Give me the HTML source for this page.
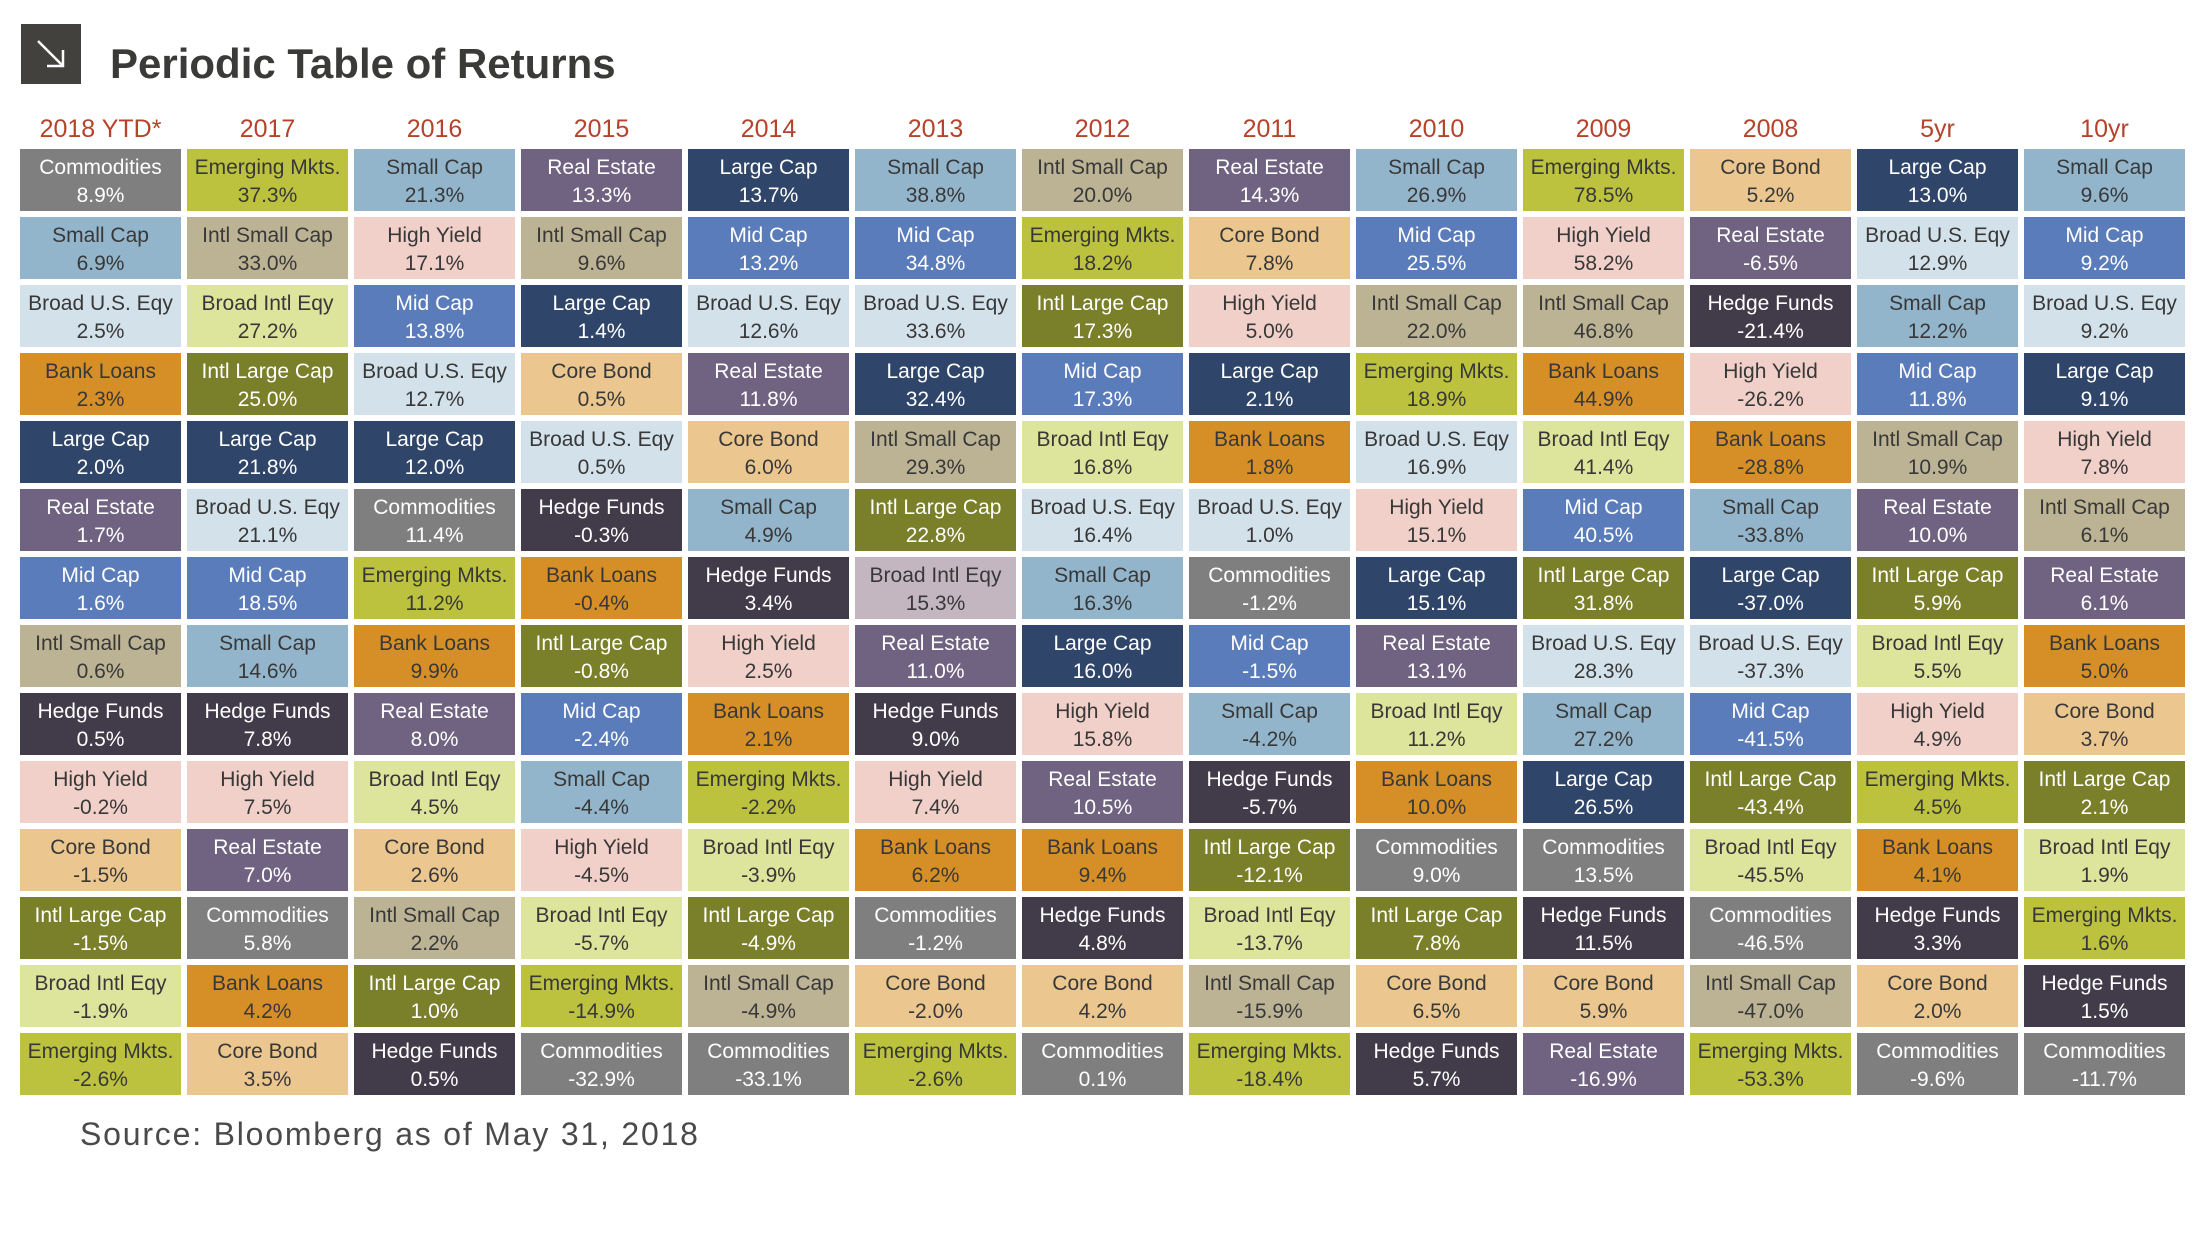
<!DOCTYPE html>
<html><head><meta charset="utf-8"><style>
body{margin:0;width:2208px;height:1242px;background:#fff;position:relative;overflow:hidden;font-family:"Liberation Sans",sans-serif}
.icon{position:absolute;left:21px;top:24px;width:60px;height:60px;background:#42413d}
.title{position:absolute;left:110px;top:40px;font-size:42px;font-weight:bold;color:#3a3a38;letter-spacing:0px}
.yr{position:absolute;top:115px;width:161px;text-align:center;font-size:25px;color:#b5432b}
.g{position:absolute;left:20px;top:149px;display:grid;grid-template-columns:repeat(13,161px);grid-template-rows:repeat(14,62px);column-gap:6px;row-gap:6px;grid-auto-flow:column}
.g div{text-align:center;font-size:21px;line-height:28px;padding-top:5px;box-sizing:border-box;color:#383838;white-space:nowrap;overflow:hidden}
.co{background:#7f7f7f;color:#fff!important}
.sc{background:#93b5cb}
.bu{background:#d3e1ea}
.bl{background:#d68f27}
.lc{background:#2f4569;color:#fff!important}
.re{background:#6f6381;color:#fff!important}
.mc{background:#5b7cba;color:#fff!important}
.is{background:#bcb394}
.hf{background:#413b4a;color:#fff!important}
.hy{background:#f0d0c8}
.cb{background:#ebc78f}
.il{background:#7a7f2a;color:#fff!important}
.bi{background:#dde49c}
.em{background:#bdc23e}
.bx{background:#c4b6c0}
.src{position:absolute;left:80px;top:1116px;font-size:32px;color:#4a4a4a;letter-spacing:1.8px}
</style></head><body>
<div class="icon"><svg width="60" height="60"><line x1="17" y1="17" x2="42" y2="42" stroke="#fff" stroke-width="2.5"/><polyline points="26,42 42,42 42,26" fill="none" stroke="#fff" stroke-width="2.5"/></svg></div>
<div class="title">Periodic Table of Returns</div>
<div class="yr" style="left:20px">2018 YTD*</div>
<div class="yr" style="left:187px">2017</div>
<div class="yr" style="left:354px">2016</div>
<div class="yr" style="left:521px">2015</div>
<div class="yr" style="left:688px">2014</div>
<div class="yr" style="left:855px">2013</div>
<div class="yr" style="left:1022px">2012</div>
<div class="yr" style="left:1189px">2011</div>
<div class="yr" style="left:1356px">2010</div>
<div class="yr" style="left:1523px">2009</div>
<div class="yr" style="left:1690px">2008</div>
<div class="yr" style="left:1857px">5yr</div>
<div class="yr" style="left:2024px">10yr</div>
<div class="g">
<div class="co">Commodities<br>8.9%</div><div class="sc">Small Cap<br>6.9%</div><div class="bu">Broad U.S. Eqy<br>2.5%</div><div class="bl">Bank Loans<br>2.3%</div><div class="lc">Large Cap<br>2.0%</div><div class="re">Real Estate<br>1.7%</div><div class="mc">Mid Cap<br>1.6%</div><div class="is">Intl Small Cap<br>0.6%</div><div class="hf">Hedge Funds<br>0.5%</div><div class="hy">High Yield<br>-0.2%</div><div class="cb">Core Bond<br>-1.5%</div><div class="il">Intl Large Cap<br>-1.5%</div><div class="bi">Broad Intl Eqy<br>-1.9%</div><div class="em">Emerging Mkts.<br>-2.6%</div>
<div class="em">Emerging Mkts.<br>37.3%</div><div class="is">Intl Small Cap<br>33.0%</div><div class="bi">Broad Intl Eqy<br>27.2%</div><div class="il">Intl Large Cap<br>25.0%</div><div class="lc">Large Cap<br>21.8%</div><div class="bu">Broad U.S. Eqy<br>21.1%</div><div class="mc">Mid Cap<br>18.5%</div><div class="sc">Small Cap<br>14.6%</div><div class="hf">Hedge Funds<br>7.8%</div><div class="hy">High Yield<br>7.5%</div><div class="re">Real Estate<br>7.0%</div><div class="co">Commodities<br>5.8%</div><div class="bl">Bank Loans<br>4.2%</div><div class="cb">Core Bond<br>3.5%</div>
<div class="sc">Small Cap<br>21.3%</div><div class="hy">High Yield<br>17.1%</div><div class="mc">Mid Cap<br>13.8%</div><div class="bu">Broad U.S. Eqy<br>12.7%</div><div class="lc">Large Cap<br>12.0%</div><div class="co">Commodities<br>11.4%</div><div class="em">Emerging Mkts.<br>11.2%</div><div class="bl">Bank Loans<br>9.9%</div><div class="re">Real Estate<br>8.0%</div><div class="bi">Broad Intl Eqy<br>4.5%</div><div class="cb">Core Bond<br>2.6%</div><div class="is">Intl Small Cap<br>2.2%</div><div class="il">Intl Large Cap<br>1.0%</div><div class="hf">Hedge Funds<br>0.5%</div>
<div class="re">Real Estate<br>13.3%</div><div class="is">Intl Small Cap<br>9.6%</div><div class="lc">Large Cap<br>1.4%</div><div class="cb">Core Bond<br>0.5%</div><div class="bu">Broad U.S. Eqy<br>0.5%</div><div class="hf">Hedge Funds<br>-0.3%</div><div class="bl">Bank Loans<br>-0.4%</div><div class="il">Intl Large Cap<br>-0.8%</div><div class="mc">Mid Cap<br>-2.4%</div><div class="sc">Small Cap<br>-4.4%</div><div class="hy">High Yield<br>-4.5%</div><div class="bi">Broad Intl Eqy<br>-5.7%</div><div class="em">Emerging Mkts.<br>-14.9%</div><div class="co">Commodities<br>-32.9%</div>
<div class="lc">Large Cap<br>13.7%</div><div class="mc">Mid Cap<br>13.2%</div><div class="bu">Broad U.S. Eqy<br>12.6%</div><div class="re">Real Estate<br>11.8%</div><div class="cb">Core Bond<br>6.0%</div><div class="sc">Small Cap<br>4.9%</div><div class="hf">Hedge Funds<br>3.4%</div><div class="hy">High Yield<br>2.5%</div><div class="bl">Bank Loans<br>2.1%</div><div class="em">Emerging Mkts.<br>-2.2%</div><div class="bi">Broad Intl Eqy<br>-3.9%</div><div class="il">Intl Large Cap<br>-4.9%</div><div class="is">Intl Small Cap<br>-4.9%</div><div class="co">Commodities<br>-33.1%</div>
<div class="sc">Small Cap<br>38.8%</div><div class="mc">Mid Cap<br>34.8%</div><div class="bu">Broad U.S. Eqy<br>33.6%</div><div class="lc">Large Cap<br>32.4%</div><div class="is">Intl Small Cap<br>29.3%</div><div class="il">Intl Large Cap<br>22.8%</div><div class="bx">Broad Intl Eqy<br>15.3%</div><div class="re">Real Estate<br>11.0%</div><div class="hf">Hedge Funds<br>9.0%</div><div class="hy">High Yield<br>7.4%</div><div class="bl">Bank Loans<br>6.2%</div><div class="co">Commodities<br>-1.2%</div><div class="cb">Core Bond<br>-2.0%</div><div class="em">Emerging Mkts.<br>-2.6%</div>
<div class="is">Intl Small Cap<br>20.0%</div><div class="em">Emerging Mkts.<br>18.2%</div><div class="il">Intl Large Cap<br>17.3%</div><div class="mc">Mid Cap<br>17.3%</div><div class="bi">Broad Intl Eqy<br>16.8%</div><div class="bu">Broad U.S. Eqy<br>16.4%</div><div class="sc">Small Cap<br>16.3%</div><div class="lc">Large Cap<br>16.0%</div><div class="hy">High Yield<br>15.8%</div><div class="re">Real Estate<br>10.5%</div><div class="bl">Bank Loans<br>9.4%</div><div class="hf">Hedge Funds<br>4.8%</div><div class="cb">Core Bond<br>4.2%</div><div class="co">Commodities<br>0.1%</div>
<div class="re">Real Estate<br>14.3%</div><div class="cb">Core Bond<br>7.8%</div><div class="hy">High Yield<br>5.0%</div><div class="lc">Large Cap<br>2.1%</div><div class="bl">Bank Loans<br>1.8%</div><div class="bu">Broad U.S. Eqy<br>1.0%</div><div class="co">Commodities<br>-1.2%</div><div class="mc">Mid Cap<br>-1.5%</div><div class="sc">Small Cap<br>-4.2%</div><div class="hf">Hedge Funds<br>-5.7%</div><div class="il">Intl Large Cap<br>-12.1%</div><div class="bi">Broad Intl Eqy<br>-13.7%</div><div class="is">Intl Small Cap<br>-15.9%</div><div class="em">Emerging Mkts.<br>-18.4%</div>
<div class="sc">Small Cap<br>26.9%</div><div class="mc">Mid Cap<br>25.5%</div><div class="is">Intl Small Cap<br>22.0%</div><div class="em">Emerging Mkts.<br>18.9%</div><div class="bu">Broad U.S. Eqy<br>16.9%</div><div class="hy">High Yield<br>15.1%</div><div class="lc">Large Cap<br>15.1%</div><div class="re">Real Estate<br>13.1%</div><div class="bi">Broad Intl Eqy<br>11.2%</div><div class="bl">Bank Loans<br>10.0%</div><div class="co">Commodities<br>9.0%</div><div class="il">Intl Large Cap<br>7.8%</div><div class="cb">Core Bond<br>6.5%</div><div class="hf">Hedge Funds<br>5.7%</div>
<div class="em">Emerging Mkts.<br>78.5%</div><div class="hy">High Yield<br>58.2%</div><div class="is">Intl Small Cap<br>46.8%</div><div class="bl">Bank Loans<br>44.9%</div><div class="bi">Broad Intl Eqy<br>41.4%</div><div class="mc">Mid Cap<br>40.5%</div><div class="il">Intl Large Cap<br>31.8%</div><div class="bu">Broad U.S. Eqy<br>28.3%</div><div class="sc">Small Cap<br>27.2%</div><div class="lc">Large Cap<br>26.5%</div><div class="co">Commodities<br>13.5%</div><div class="hf">Hedge Funds<br>11.5%</div><div class="cb">Core Bond<br>5.9%</div><div class="re">Real Estate<br>-16.9%</div>
<div class="cb">Core Bond<br>5.2%</div><div class="re">Real Estate<br>-6.5%</div><div class="hf">Hedge Funds<br>-21.4%</div><div class="hy">High Yield<br>-26.2%</div><div class="bl">Bank Loans<br>-28.8%</div><div class="sc">Small Cap<br>-33.8%</div><div class="lc">Large Cap<br>-37.0%</div><div class="bu">Broad U.S. Eqy<br>-37.3%</div><div class="mc">Mid Cap<br>-41.5%</div><div class="il">Intl Large Cap<br>-43.4%</div><div class="bi">Broad Intl Eqy<br>-45.5%</div><div class="co">Commodities<br>-46.5%</div><div class="is">Intl Small Cap<br>-47.0%</div><div class="em">Emerging Mkts.<br>-53.3%</div>
<div class="lc">Large Cap<br>13.0%</div><div class="bu">Broad U.S. Eqy<br>12.9%</div><div class="sc">Small Cap<br>12.2%</div><div class="mc">Mid Cap<br>11.8%</div><div class="is">Intl Small Cap<br>10.9%</div><div class="re">Real Estate<br>10.0%</div><div class="il">Intl Large Cap<br>5.9%</div><div class="bi">Broad Intl Eqy<br>5.5%</div><div class="hy">High Yield<br>4.9%</div><div class="em">Emerging Mkts.<br>4.5%</div><div class="bl">Bank Loans<br>4.1%</div><div class="hf">Hedge Funds<br>3.3%</div><div class="cb">Core Bond<br>2.0%</div><div class="co">Commodities<br>-9.6%</div>
<div class="sc">Small Cap<br>9.6%</div><div class="mc">Mid Cap<br>9.2%</div><div class="bu">Broad U.S. Eqy<br>9.2%</div><div class="lc">Large Cap<br>9.1%</div><div class="hy">High Yield<br>7.8%</div><div class="is">Intl Small Cap<br>6.1%</div><div class="re">Real Estate<br>6.1%</div><div class="bl">Bank Loans<br>5.0%</div><div class="cb">Core Bond<br>3.7%</div><div class="il">Intl Large Cap<br>2.1%</div><div class="bi">Broad Intl Eqy<br>1.9%</div><div class="em">Emerging Mkts.<br>1.6%</div><div class="hf">Hedge Funds<br>1.5%</div><div class="co">Commodities<br>-11.7%</div>
</div>
<div class="src">Source: Bloomberg as of May 31, 2018</div>
</body></html>
